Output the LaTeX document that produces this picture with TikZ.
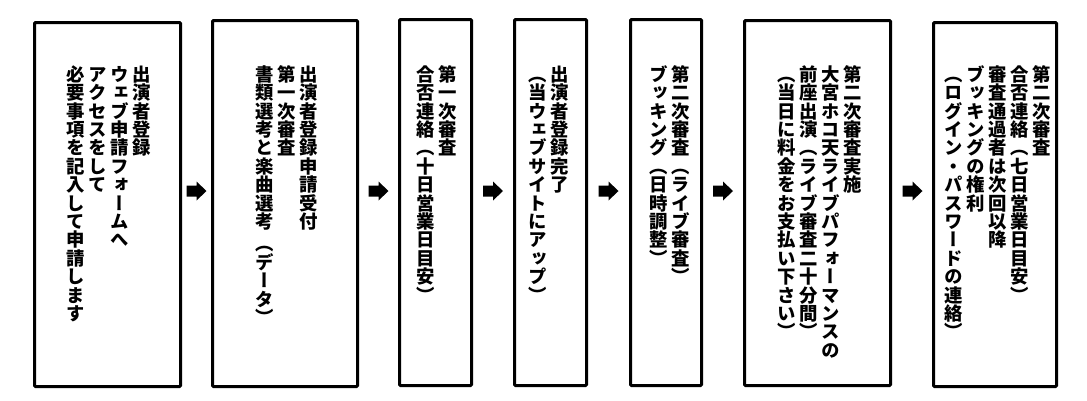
\documentclass[tikz,border=0pt]{standalone}
\usepackage{fontspec}
\newfontfamily\jp{Noto Sans CJK JP}[RawFeature=+vert]
\newcommand\jpv{\jp\bfseries\fontsize{18.4}{18.4}\selectfont}
\def\gapmark{GAP}
\newcommand\vcell[1]{\hbox to 1em{\vrule width 0pt height 0.88em depth 0.12em\hss#1\hss}}
\def\vtloop#1{\ifx#1\relax\else\ifx#1\gapmark\kern4pt\else\vcell{#1}\fi\expandafter\vtloop\fi}
\newcommand\vcol[1]{\vtop{\baselineskip=18.4pt\lineskiplimit=-100pt\lineskip=0pt\vtloop#1\relax}}
\newcommand\cs{\kern3.6pt}
\tikzset{
  stage/.style={draw, line width=3pt, rounded corners=1pt, inner sep=0pt},
  vlabel/.style={anchor=north, inner sep=0pt, font=\jpv},
  blockarrow/.pic={\fill (-10,-5.5) -- (0,-5.5) -- (0,-9.5) -- (10,0) -- (0,9.5) -- (0,5.5) -- (-10,5.5) -- cycle;}
}
\begin{document}
\begin{tikzpicture}[x=1pt,y=-1pt]
\useasboundingbox (0,0) rectangle (1087,400);
% boxes
\node[stage, minimum width=146, minimum height=364] (b1) at (107.5,204.5) {};
\node[stage, minimum width=145, minimum height=366] (b2) at (285,203.5) {};
\node[stage, minimum width=72, minimum height=366] (b3) at (435.5,202.5) {};
\node[stage, minimum width=72, minimum height=366] (b4) at (550.5,202.5) {};
\node[stage, minimum width=71, minimum height=366] (b5) at (666,202.5) {};
\node[stage, minimum width=146, minimum height=365] (b6) at (817.5,203) {};
\node[stage, minimum width=123, minimum height=364] (b7) at (995,204.5) {};
% texts
\node[vlabel] (t1) at (109,65) {\vcol{必要事項を記入して申請します}\cs\vcol{アクセスをして}\cs\vcol{ウェブ申請フォームへ}\cs\vcol{出演者登録}};
\node[vlabel] (t2) at (287,65) {\vcol{書類選考と楽曲選考\gapmark（データ）}\cs\vcol{第一次審査}\cs\vcol{出演者登録申請受付}};
\node[vlabel] (t3) at (436.5,65) {\vcol{合否連絡（十日営業日目安）}\cs\vcol{第一次審査}};
\node[vlabel] (t4) at (548.5,65) {\vcol{（当ウェブサイトにアップ）}\cs\vcol{出演者登録完了}};
\node[vlabel] (t5) at (670,65) {\vcol{ブッキング（日時調整）}\cs\vcol{第二次審査（ライブ審査）}};
\node[vlabel] (t6) at (820,65) {\vcol{（当日に料金をお支払い下さい）}\cs\vcol{前座出演（ライブ審査二十分間）}\cs\vcol{大宮ホコ天ライブパフォーマンスの}\cs\vcol{第二次審査実施}};
\node[vlabel] (t7) at (997.5,65) {\vcol{（ログイン・パスワードの連絡）}\cs\vcol{ブッキングの権利}\cs\vcol{審査通過者は次回以降}\cs\vcol{合否連絡（七日営業日目安）}\cs\vcol{第二次審査}};
% arrows
\pic at (196.5,191) {blockarrow};
\pic at (378.5,191) {blockarrow};
\pic at (493,191) {blockarrow};
\pic at (608.5,191) {blockarrow};
\pic at (723,191) {blockarrow};
\pic at (912.5,191) {blockarrow};
\end{tikzpicture}
\end{document}
